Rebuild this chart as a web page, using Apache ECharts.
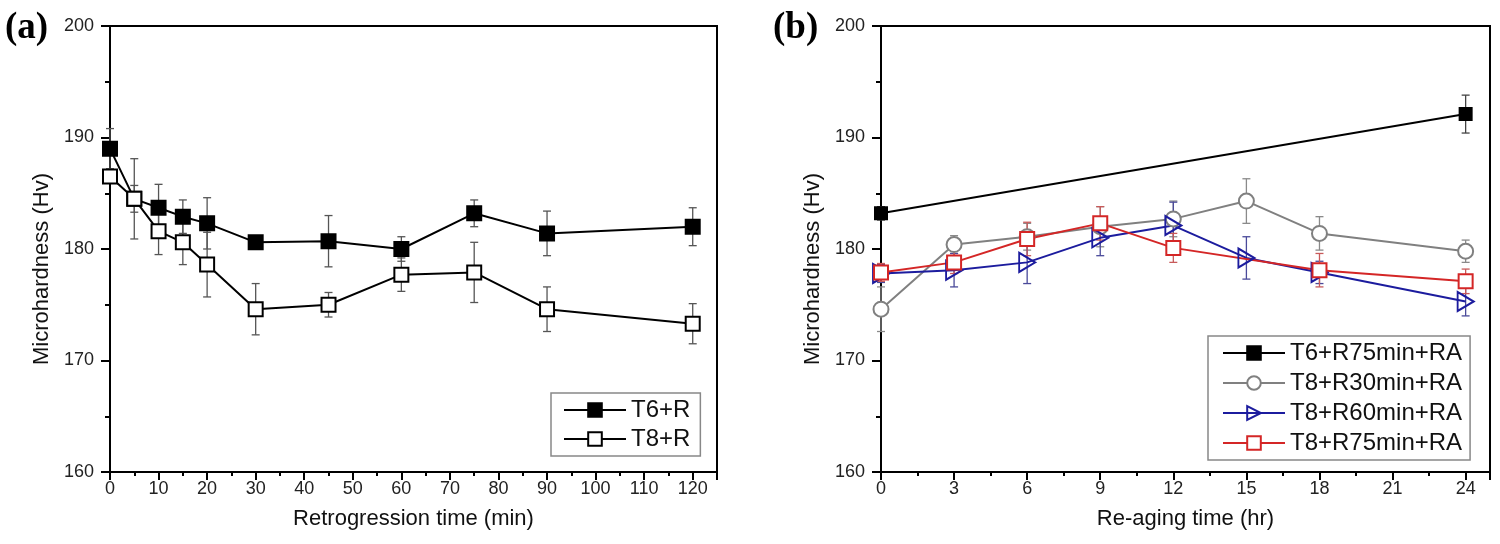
<!DOCTYPE html>
<html>
<head>
<meta charset="utf-8">
<script src="https://cdn.jsdelivr.net/npm/echarts@6/dist/echarts.min.js"></script>
<style>
  html, body { margin: 0; padding: 0; background: #fff; }
  #chart { width: 1500px; height: 544px; }
</style>
</head>
<body>
<div id="chart"></div>
<script>
// ---- panel (a): retrogression time (min) ----
var retroTime = [0, 5, 10, 15, 20, 30, 45, 60, 75, 90, 120];
var t6R    = [189.0, 184.5, 183.7, 182.9, 182.3, 180.6, 180.7, 180.0, 183.2, 181.4, 182.0];
var t6RErr = [1.8, 1.2, 2.1, 1.5, 2.3, 0.4, 2.3, 1.1, 1.2, 2.0, 1.7];
var t8R    = [186.5, 184.5, 181.6, 180.6, 178.6, 174.6, 175.0, 177.7, 177.9, 174.6, 173.3];
var t8RErr = [0.6, 3.6, 2.1, 2.0, 2.9, 2.3, 1.1, 1.5, 2.7, 2.0, 1.8];

// ---- panel (b): re-aging time (hr) ----
var agingTime  = [0, 3, 6, 9, 12, 15, 18, 24];
var t6R75Time  = [0, 24];
var t6R75      = [183.2, 192.1];
var t6R75Err   = [0.6, 1.7];
var t8R30      = [174.6, 180.4, 181.1, 182.0, 182.7, 184.3, 181.4, 179.8];
var t8R30Err   = [2.0, 0.8, 1.2, 1.8, 1.6, 2.0, 1.5, 1.0];
var t8R60      = [177.8, 178.1, 178.8, 181.0, 182.1, 179.2, 177.9, 175.3];
var t8R60Err   = [0.8, 1.5, 1.9, 1.6, 2.1, 1.9, 1.0, 1.3];
var t8R75Time  = [0, 3, 6, 9, 12, 18, 24];
var t8R75      = [177.9, 178.8, 180.9, 182.3, 180.1, 178.1, 177.1];
var t8R75Err   = [0.8, 1.0, 1.5, 1.5, 1.3, 1.5, 1.1];

var yTicks = [160, 170, 180, 190, 200];

var FONT = "'Liberation Sans', Arial, sans-serif";

function pairs(xs, ys) {
    return xs.map(function (x, i) { return [x, ys[i]]; });
}
function bars(xs, ys, es) {
    return xs.map(function (x, i) { return [x, ys[i] - es[i], ys[i] + es[i]]; });
}

// vertical error bar with small caps
function errorBarItem(params, api) {
    var x = api.value(0);
    var top = api.coord([x, api.value(2)]);
    var bot = api.coord([x, api.value(1)]);
    var half = 4;
    var style = { stroke: api.visual('color'), lineWidth: 1.3 };
    return {
        type: 'group',
        children: [
            { type: 'line', shape: { x1: top[0], y1: top[1], x2: bot[0], y2: bot[1] }, style: style },
            { type: 'line', shape: { x1: top[0] - half, y1: top[1], x2: top[0] + half, y2: top[1] }, style: style },
            { type: 'line', shape: { x1: bot[0] - half, y1: bot[1], x2: bot[0] + half, y2: bot[1] }, style: style }
        ]
    };
}

function majorX(grid, max, step, name) {
    return {
        type: 'value', gridIndex: grid, position: 'bottom', min: 0, max: max, interval: step,
        name: name, nameLocation: 'middle', nameGap: 36,
        nameTextStyle: { fontFamily: FONT, fontSize: 22, color: '#111' },
        axisLine: { onZero: false, lineStyle: { color: '#000', width: 2 } },
        axisTick: { length: 8, lineStyle: { color: '#000', width: 2 } },
        axisLabel: {
            fontFamily: FONT, fontSize: 18, color: '#222', margin: 8,
            formatter: function (v) { return (Math.abs(v % step) < 1e-6 && v < max) ? String(v) : ''; }
        },
        splitLine: { show: false }
    };
}
function minorX(grid, max, step) {
    return {
        type: 'value', gridIndex: grid, position: 'bottom', min: 0, max: max, interval: step,
        axisLine: { show: false },
        axisTick: { length: 4, lineStyle: { color: '#000', width: 2 } },
        axisLabel: { show: false },
        splitLine: { show: false }
    };
}
function yAx(grid) {
    return {
        type: 'value', gridIndex: grid, min: yTicks[0], max: yTicks[yTicks.length - 1], interval: 10,
        name: 'Microhardness (Hv)', nameLocation: 'middle', nameGap: 57,
        nameTextStyle: { fontFamily: FONT, fontSize: 22, color: '#111', padding: [0, 0, 0, -40] },
        axisLine: { onZero: false, lineStyle: { color: '#000', width: 2 } },
        axisTick: { length: 9, lineStyle: { color: '#000', width: 2 } },
        minorTick: { show: true, splitNumber: 2, length: 5, lineStyle: { color: '#000', width: 2 } },
        axisLabel: { fontFamily: FONT, fontSize: 18, color: '#222', margin: 16 },
        splitLine: { show: false },
        minorSplitLine: { show: false }
    };
}

function lineSeries(name, data, xi, yi, color, symbol, size, fill, extra) {
    var s = {
        name: name, type: 'line', data: data, xAxisIndex: xi, yAxisIndex: yi,
        symbol: symbol, symbolSize: size, showAllSymbol: true,
        lineStyle: { color: color, width: 2 },
        itemStyle: { color: fill, borderColor: color, borderWidth: 2 },
        z: 5, animation: false
    };
    if (extra) { for (var k in extra) s[k] = extra[k]; }
    return s;
}
function barSeries(data, xi, yi, color) {
    return {
        name: 'err', type: 'custom', renderItem: errorBarItem, data: data,
        xAxisIndex: xi, yAxisIndex: yi, itemStyle: { color: color },
        z: 2, animation: false, silent: true
    };
}

var chart = echarts.init(document.getElementById('chart'));
var option = {
    backgroundColor: '#fff',
    animation: false,
    grid: [
        { left: 110, top: 26, width: 607, height: 446, show: true, borderColor: '#000', borderWidth: 2 },
        { left: 881, top: 26, width: 609, height: 446, show: true, borderColor: '#000', borderWidth: 2 }
    ],
    xAxis: [
        majorX(0, 125, 10, 'Retrogression time (min)'),
        minorX(0, 125, 5),
        majorX(1, 25, 3, 'Re-aging time (hr)'),
        minorX(1, 25, 1.5)
    ],
    yAxis: [yAx(0), yAx(1)],
    legend: [
        {
            data: ['T6+R', 'T8+R'], orient: 'vertical', left: 551, top: 393,
            itemWidth: 62, itemHeight: 17, itemGap: 5, padding: [5, 10, 5, 12],
            borderColor: '#888', borderWidth: 1.5, backgroundColor: '#fff',
            textStyle: { fontFamily: FONT, fontSize: 24, color: '#111' },
            selectedMode: false
        },
        {
            data: ['T6+R75min+RA', 'T8+R30min+RA', 'T8+R60min+RA', 'T8+R75min+RA'],
            orient: 'vertical', left: 1208, top: 336,
            itemWidth: 62, itemHeight: 17, itemGap: 6, padding: [5, 8, 5, 14],
            borderColor: '#888', borderWidth: 1.5, backgroundColor: '#fff',
            textStyle: { fontFamily: FONT, fontSize: 24, color: '#111' },
            selectedMode: false
        }
    ],
    graphic: [
        { type: 'text', left: 5, top: 10, style: { text: '(a)', font: "bold 37px 'Liberation Serif', 'Times New Roman', serif", fill: '#000' } },
        { type: 'text', left: 773, top: 10, style: { text: '(b)', font: "bold 37px 'Liberation Serif', 'Times New Roman', serif", fill: '#000' } }
    ],
    series: [
        barSeries(bars(retroTime, t6R, t6RErr), 0, 0, '#555'),
        barSeries(bars(retroTime, t8R, t8RErr), 0, 0, '#555'),
        lineSeries('T6+R', pairs(retroTime, t6R), 0, 0, '#000', 'rect', 14, '#000'),
        lineSeries('T8+R', pairs(retroTime, t8R), 0, 0, '#000', 'rect', 14, '#fff'),

        barSeries(bars(t6R75Time, t6R75, t6R75Err), 2, 1, '#444'),
        barSeries(bars(agingTime, t8R30, t8R30Err), 2, 1, '#8a8a8a'),
        barSeries(bars(agingTime, t8R60, t8R60Err), 2, 1, '#4a4a9a'),
        barSeries(bars(t8R75Time, t8R75, t8R75Err), 2, 1, '#c85a5a'),
        lineSeries('T6+R75min+RA', pairs(t6R75Time, t6R75), 2, 1, '#000', 'rect', 12, '#000'),
        lineSeries('T8+R30min+RA', pairs(agingTime, t8R30), 2, 1, '#808080', 'circle', 15, '#fff'),
        lineSeries('T8+R60min+RA', pairs(agingTime, t8R60), 2, 1, '#1c1c9e', 'triangle', [19, 16], 'rgba(255,255,255,0)', { symbolRotate: -90 }),
        lineSeries('T8+R75min+RA', pairs(t8R75Time, t8R75), 2, 1, '#d42626', 'rect', 14, '#fff')
    ]
};
chart.setOption(option);
</script>
</body>
</html>
